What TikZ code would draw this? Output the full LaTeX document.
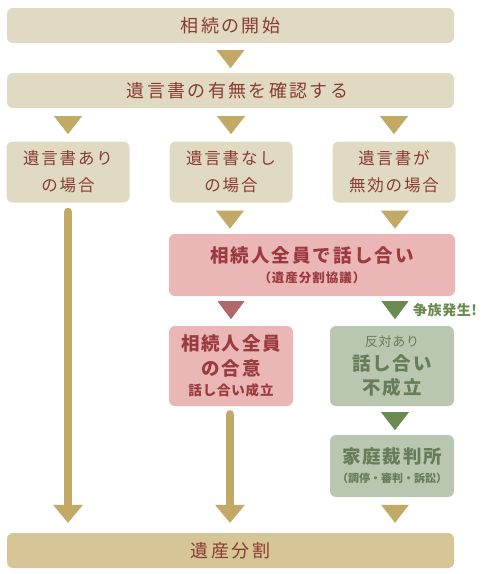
\documentclass[tikz,border=0pt]{standalone}
\usepackage{fontspec}
\setmainfont{Noto Sans CJK JP}
\usetikzlibrary{calc}
\definecolor{beige}{HTML}{E0DAC3}
\definecolor{tan}{HTML}{C3A966}
\definecolor{redtext}{HTML}{8A3B33}
\definecolor{pinkbox}{HTML}{EBB7B6}
\definecolor{pinktext}{HTML}{9B3B3F}
\definecolor{pinktri}{HTML}{B1686B}
\definecolor{greenbox}{HTML}{B9C7B1}
\definecolor{greentext}{HTML}{677C58}
\definecolor{greentri}{HTML}{6A8B50}
\definecolor{finalbox}{HTML}{D6C697}
\newcommand\jfs[3]{\fontsize{#1}{#2}\selectfont\addfontfeature{LetterSpace=#3}}
\newcommand\dtri[3]{\fill[#3] ($(#1)+(-#2,0)$) -- ($(#1)+(#2,0)$) -- ($(#1)+(0,18)$) -- cycle;}
\tikzset{
  box/.style={rectangle, rounded corners=6pt, inner sep=0pt, align=center},
  widebox/.style={box, fill=beige, text=redtext, minimum width=447pt, minimum height=35pt, font=\jfs{18}{20}{13}},
  casebox/.style={box, fill=beige, text=redtext, minimum width=123pt, minimum height=61pt, font=\jfs{16.5}{27}{11}},
  pinkbox/.style={box, fill=pinkbox, text=pinktext},
  greenbox/.style={box, fill=greenbox, text=greentext},
  stem/.style={line width=8pt, line cap=round, draw=tan},
}
\begin{document}
\begin{tikzpicture}[x=1pt,y=-1pt]
\useasboundingbox (0,0) rectangle (490,574);
\node[widebox] (start) at (230.5,25.5) {相続の開始};
\node[widebox] (check) at (230.5,90.5) {\hspace*{14pt}遺言書の有無を確認する};
\node[casebox] (yes) at (68,172) {遺言書あり\\の場合};
\node[casebox] (no) at (231,172) {遺言書なし\\の場合};
\node[casebox] (inv) at (394,172) {遺言書が\\無効の場合};
\node[pinkbox, minimum width=286pt, minimum height=62pt, font=\fontsize{12}{20}\selectfont] (talk) at (312,265)
  {{\bfseries\jfs{18.5}{22}{11}相続人全員で話し合い}\\{\bfseries\jfs{12.5}{14}{8}（遺産分割協議）}};
\node[pinkbox, minimum width=124pt, minimum height=80pt, font=\fontsize{12}{25}\selectfont] (agree) at (231,366)
  {{\bfseries\jfs{18.5}{24}{10}相続人全員}\\{\bfseries\jfs{18.5}{22}{10}の合意}\\[-5pt]{\bfseries\jfs{13.5}{16}{6}話し合い成立}};
\node[greenbox, minimum width=124pt, minimum height=80pt, font=\fontsize{12}{24}\selectfont] (fail) at (392,366)
  {{\jfs{13}{16}{6}反対あり}\\{\bfseries\jfs{18.5}{22}{10}話し合い}\\{\bfseries\jfs{18.5}{22}{10}不成立}};
\node[greenbox, minimum width=124pt, minimum height=62pt, font=\fontsize{10}{19}\selectfont] (court) at (392,466)
  {{\bfseries\jfs{18.5}{20}{10}家庭裁判所}\\{\bfseries\jfs{11}{12}{0}（調停・審判・訴訟）}};
\node[box, fill=finalbox, text=redtext, minimum width=447pt, minimum height=35pt, font=\jfs{18}{20}{13}] (div) at (230.5,550.5) {遺産分割};
\node[anchor=west, text=greentri, font=\bfseries\jfs{14}{16}{4}, inner sep=0pt] (dispute) at (413,310) {争族発生!};
% arrows
\coordinate (t1) at ($(start.south)+(0,7)$);
\dtri{t1}{14}{tan}
\coordinate (t2a) at ($(check.south -| yes)+(0,8)$);
\coordinate (t2b) at ($(check.south -| no)+(0,8)$);
\coordinate (t2c) at ($(check.south -| inv)+(0,8)$);
\dtri{t2a}{14}{tan}
\dtri{t2b}{14}{tan}
\dtri{t2c}{14}{tan}
\coordinate (t3b) at ($(no.south)+(-1,8)$);
\coordinate (t3c) at ($(inv.south)+(1,8)$);
\dtri{t3b}{14}{tan}
\dtri{t3c}{14}{tan}
\coordinate (t4b) at ($(talk.south -| agree)+(0,5)$);
\coordinate (t4c) at ($(talk.south -| fail)+(3,5)$);
\dtri{t4b}{13.5}{pinktri}
\dtri{t4c}{13.5}{greentri}
\coordinate (t5c) at ($(fail.south)+(3,6)$);
\dtri{t5c}{14}{greentri}
\coordinate (t6c) at ($(div.north -| court)+(3,-28)$);
\dtri{t6c}{14}{tan}
% stems
\coordinate (ha) at ($(div.north -| yes)+(0,-28)$);
\coordinate (hb) at ($(div.north -| agree)+(-1,-28)$);
\draw[stem] ($(yes.south)+(0,9)$) -- ($(ha)+(0,1)$);
\dtri{ha}{15}{tan}
\draw[stem] ($(agree.south)+(-1,8)$) -- ($(hb)+(0,1)$);
\dtri{hb}{15}{tan}
\end{tikzpicture}
\end{document}
